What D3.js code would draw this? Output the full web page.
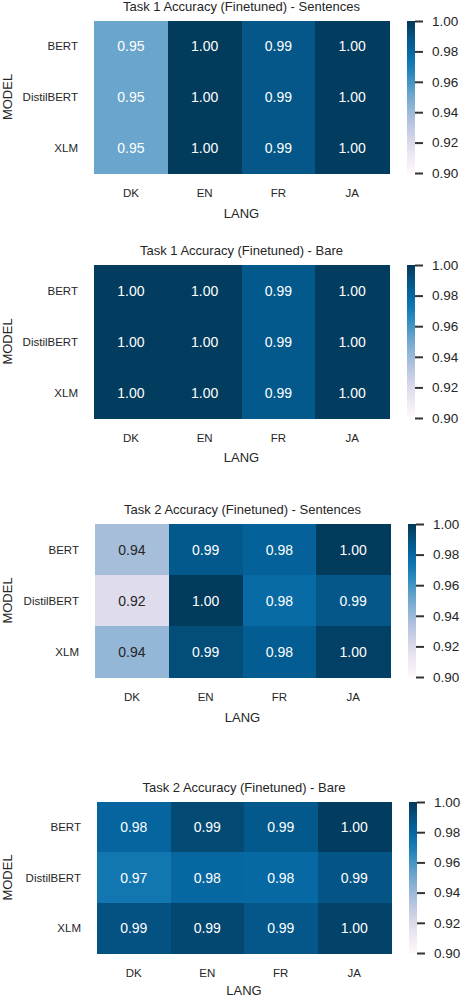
<!DOCTYPE html>
<html lang="en">
  <head>
    <meta charset="UTF-8" />
    <title>Accuracy heatmaps</title>
    <script src="https://d3js.org/d3.v7.min.js"></script>
    <style>
      body {
        margin: 0;
        background: #fff;
      }
      svg {
        font-family: "Liberation Sans", Arial, sans-serif;
      }
      text {
        fill: #262626;
      }
    </style>
  </head>
  <body>
    <svg id="chart" width="462" height="998"></svg>
    <script>
      // data
      const langs = ["DK", "EN", "FR", "JA"];
      const models = ["BERT", "DistilBERT", "XLM"];
      const titles = [
        "Task 1 Accuracy (Finetuned) - Sentences",
        "Task 1 Accuracy (Finetuned) - Bare",
        "Task 2 Accuracy (Finetuned) - Sentences",
        "Task 2 Accuracy (Finetuned) - Bare",
      ];
      // rows = models, cols = langs
      const task1Sentences = [
        [0.952, 0.999, 0.988, 0.998],
        [0.952, 0.999, 0.988, 0.998],
        [0.952, 0.999, 0.988, 0.998],
      ];
      const task1Bare = [
        [0.998, 0.998, 0.987, 0.998],
        [0.998, 0.998, 0.987, 0.998],
        [0.998, 0.998, 0.987, 0.998],
      ];
      const task2Sentences = [
        [0.937, 0.987, 0.983, 0.999],
        [0.918, 0.999, 0.978, 0.988],
        [0.942, 0.992, 0.985, 0.997],
      ];
      const task2Bare = [
        [0.981, 0.993, 0.987, 0.998],
        [0.973, 0.980, 0.979, 0.989],
        [0.990, 0.994, 0.988, 0.996],
      ];
      const cbarTicks = [0.9, 0.92, 0.94, 0.96, 0.98, 1.0];

      const datasets = [task1Sentences, task1Bare, task2Sentences, task2Bare];

      // layout of each panel (heatmap box, colorbar x, x-label offset)
      const panels = [
        { left: 94, right: 389, top: 21, bottom: 173, cb: 407, lab: 40 },
        { left: 94, right: 389, top: 265, bottom: 418, cb: 407, lab: 39 },
        { left: 95, right: 390, top: 524, bottom: 677, cb: 408, lab: 40 },
        { left: 97, right: 391, top: 802, bottom: 953, cb: 409, lab: 37 },
      ];

      const svg = d3.select("#chart");
      const color = d3.scaleSequential(d3.interpolatePuBu).domain([0.9, 1.0]);

      // gradient for colorbars
      const grad = svg
        .append("defs")
        .append("linearGradient")
        .attr("id", "cbar")
        .attr("x1", 0)
        .attr("y1", 1)
        .attr("x2", 0)
        .attr("y2", 0);
      grad
        .selectAll("stop")
        .data(d3.range(0, 1.0001, 0.05))
        .enter()
        .append("stop")
        .attr("offset", (d) => d)
        .attr("stop-color", (d) => d3.interpolatePuBu(d));

      function textColor(c) {
        const rgb = d3.rgb(c);
        const lin = (v) => {
          v = v / 255;
          return v <= 0.03928 ? v / 12.92 : Math.pow((v + 0.055) / 1.055, 2.4);
        };
        const lum = 0.2126 * lin(rgb.r) + 0.7152 * lin(rgb.g) + 0.0722 * lin(rgb.b);
        return lum > 0.408 ? "#262626" : "#ffffff";
      }

      panels.forEach((p, i) => {
        const data = datasets[i];
        const g = svg.append("g");

        const x = d3.scaleBand().domain(langs).range([p.left, p.right]);
        const y = d3.scaleBand().domain(models).range([p.top, p.bottom]);

        const cells = [];
        models.forEach((m, r) =>
          langs.forEach((l, c) => cells.push({ m, l, v: data[r][c] }))
        );

        g.selectAll("rect.cell")
          .data(cells)
          .enter()
          .append("rect")
          .attr("class", "cell")
          .attr("x", (d) => x(d.l))
          .attr("y", (d) => y(d.m))
          .attr("width", x.bandwidth() + 0.5)
          .attr("height", y.bandwidth() + 0.5)
          .attr("shape-rendering", "crispEdges")
          .attr("fill", (d) => color(d.v));

        g.selectAll("text.annot")
          .data(cells)
          .enter()
          .append("text")
          .attr("class", "annot")
          .attr("x", (d) => x(d.l) + x.bandwidth() / 2)
          .attr("y", (d) => y(d.m) + y.bandwidth() / 2)
          .attr("text-anchor", "middle")
          .attr("dominant-baseline", "central")
          .style("font-size", "14px")
          .style("fill", (d) => textColor(color(d.v)))
          .text((d) => d.v.toFixed(2));

        // title
        g.append("text")
          .attr("x", (p.left + p.right) / 2)
          .attr("y", p.top - 15)
          .attr("text-anchor", "middle")
          .attr("dominant-baseline", "central")
          .style("font-size", "13px")
          .text(titles[i]);

        // x tick labels
        g.selectAll("text.xt")
          .data(langs)
          .enter()
          .append("text")
          .attr("class", "xt")
          .attr("x", (d) => x(d) + x.bandwidth() / 2)
          .attr("y", p.bottom + 20)
          .attr("text-anchor", "middle")
          .attr("dominant-baseline", "central")
          .style("font-size", "11.5px")
          .text((d) => d);

        g.append("text")
          .attr("x", (p.left + p.right) / 2)
          .attr("y", p.bottom + p.lab)
          .attr("text-anchor", "middle")
          .attr("dominant-baseline", "central")
          .style("font-size", "13px")
          .text("LANG");

        // y tick labels
        g.selectAll("text.yt")
          .data(models)
          .enter()
          .append("text")
          .attr("class", "yt")
          .attr("x", p.left - 16)
          .attr("y", (d) => y(d) + y.bandwidth() / 2)
          .attr("text-anchor", "end")
          .attr("dominant-baseline", "central")
          .style("font-size", "11.5px")
          .text((d) => d);

        g.append("text")
          .attr(
            "transform",
            `translate(11.5,${(p.top + p.bottom) / 2}) rotate(-90)`
          )
          .attr("text-anchor", "middle")
          .style("font-size", "13px")
          .text("MODEL");

        // colorbar
        const cy = d3.scaleLinear().domain([0.9, 1.0]).range([p.bottom, p.top]);
        g.append("rect")
          .attr("x", p.cb)
          .attr("y", p.top)
          .attr("width", 8)
          .attr("height", p.bottom - p.top)
          .attr("fill", "url(#cbar)");

        const axis = g
          .append("g")
          .attr("transform", `translate(${p.cb + 8},0)`)
          .call(
            d3
              .axisRight(cy)
              .tickValues(cbarTicks)
              .tickFormat(d3.format(".2f"))
              .tickSize(8)
              .tickPadding(9)
          );
        axis.select(".domain").remove();
        axis.selectAll(".tick line").attr("stroke", "#333").attr("stroke-width", 2);
        axis
          .selectAll(".tick text")
          .style("font-size", "13.5px")
          .style("fill", "#262626")
          .style("font-family", "'Liberation Sans', Arial, sans-serif");
      });
    </script>
  </body>
</html>
